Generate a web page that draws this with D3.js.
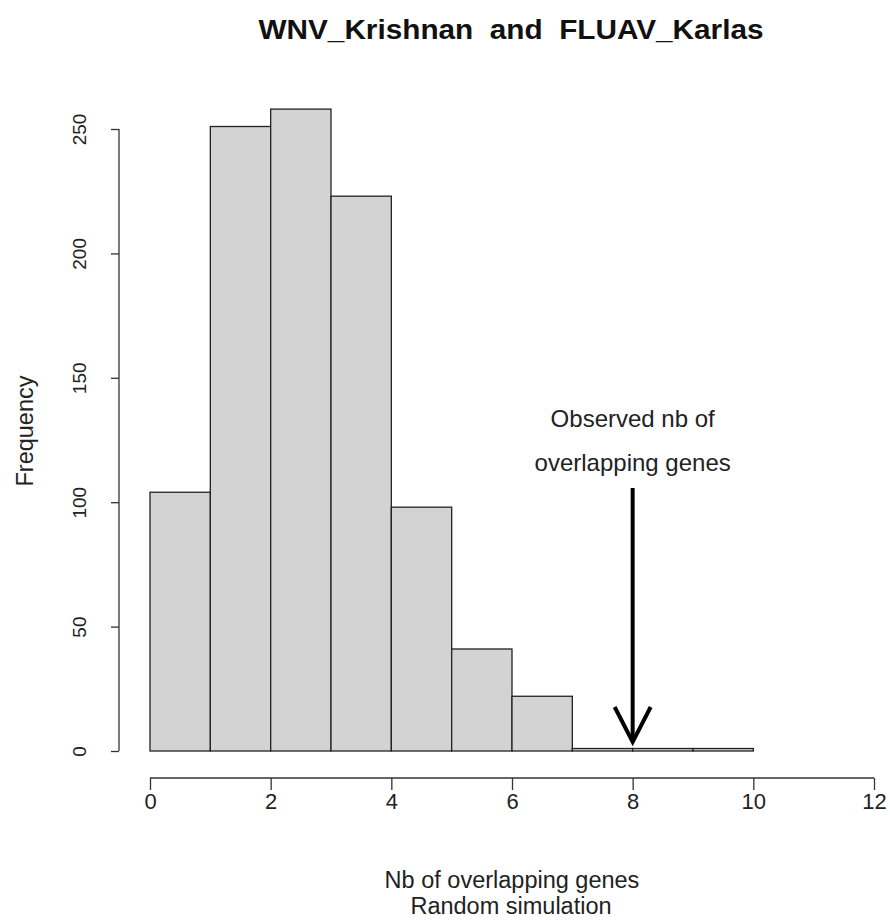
<!DOCTYPE html>
<html><head><meta charset="utf-8">
<script src="https://cdn.jsdelivr.net/npm/d3@7"></script>
<style>body{margin:0;background:#fff;} text{font-family:"Liberation Sans",Arial,sans-serif;}</style>
</head><body>
<svg id="c" width="890" height="921"></svg>
<script>
const binStarts = [0,1,2,3,4,5,6,7,8,9,10,11];
const counts = [104,251,258,223,98,41,22,1,1,1,0,0];
const xTicks = [0,2,4,6,8,10,12];
const yTicks = [0,50,100,150,200,250];
const observed = 8;
const title = "WNV_Krishnan  and  FLUAV_Karlas";

const svg = d3.select("#c");
const x = d3.scaleLinear().domain([0,12]).range([150,874]);
const y = d3.scaleLinear().domain([0,250]).range([751,129]);

// bars
svg.append("g").selectAll("rect").data(binStarts).join("rect")
  .attr("x", d=>x(d)).attr("width", d=>x(d+1)-x(d))
  .attr("y", (d,i)=>y(counts[i])).attr("height",(d,i)=>y(0)-y(counts[i]))
  .attr("fill","#d3d3d3").attr("stroke","#222").attr("stroke-width",1.3);

// x axis
const xa = svg.append("g").attr("transform","translate(0,778)")
  .call(d3.axisBottom(x).tickValues(xTicks).tickSize(12).tickPadding(3).tickFormat(d3.format("d")));
xa.selectAll("text").attr("font-size",22).attr("fill","#222").style("font-family","Liberation Sans, Arial, sans-serif");
xa.select(".domain").attr("d", `M${x(0)},0H${x(12)}`).attr("stroke","#333").attr("stroke-width",1.3);
xa.selectAll(".tick line").attr("stroke","#333").attr("stroke-width",1.3);

// y axis
const ya = svg.append("g").attr("transform","translate(119,0)")
  .call(d3.axisLeft(y).tickValues(yTicks).tickSize(8).tickPadding(0));
ya.select(".domain").attr("d", `M0,${y(0)}V${y(250)}`).attr("stroke","#333").attr("stroke-width",1.3);
ya.selectAll(".tick line").attr("stroke","#333").attr("stroke-width",1.3);
ya.selectAll("text").attr("font-size",19).attr("fill","#222")
  .attr("text-anchor","middle").attr("x",0).attr("dy",0)
  .attr("transform","translate(-33,0) rotate(-90)")
  .style("font-family","Liberation Sans, Arial, sans-serif");

// labels
svg.append("text").attr("x",511).attr("y",39).attr("text-anchor","middle")
  .attr("font-size",27).attr("font-weight","bold").attr("fill","#111")
  .attr("textLength",505).attr("lengthAdjust","spacingAndGlyphs")
  .style("white-space","pre").text(title);
svg.append("text").attr("transform","translate(33,431) rotate(-90)").attr("text-anchor","middle")
  .attr("font-size",23.5).attr("fill","#222").text("Frequency");
svg.append("text").attr("x",512).attr("y",888).attr("text-anchor","middle")
  .attr("font-size",23.5).attr("fill","#222").text("Nb of overlapping genes");
svg.append("text").attr("x",511).attr("y",914).attr("text-anchor","middle")
  .attr("font-size",23.5).attr("fill","#222").text("Random simulation");

// annotation
const ax = x(observed);
svg.append("text").attr("x",ax).attr("y",427).attr("text-anchor","middle")
  .attr("font-size",24).attr("fill","#222").text("Observed nb of");
svg.append("text").attr("x",ax).attr("y",471).attr("text-anchor","middle")
  .attr("font-size",24).attr("fill","#222").text("overlapping genes");
svg.append("line").attr("x1",ax).attr("x2",ax).attr("y1",488).attr("y2",742)
  .attr("stroke","#000").attr("stroke-width",4);
svg.append("path").attr("d",`M${ax-18},707L${ax},742L${ax+18},707`)
  .attr("fill","none").attr("stroke","#000").attr("stroke-width",4).attr("stroke-linejoin","miter");
</script>
</body></html>
